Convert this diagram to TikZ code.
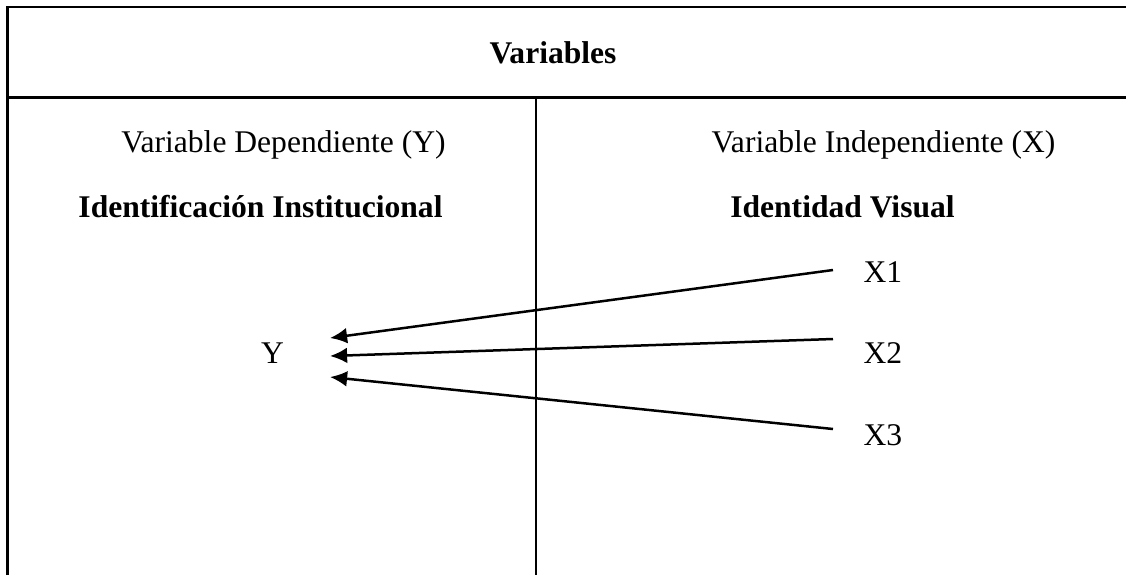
\documentclass[tikz,border=0pt]{standalone}
\usepackage{fontspec}
\setmainfont{Liberation Serif}
\usepackage{tikz}
\usetikzlibrary{arrows.meta}

\begin{document}
\begin{tikzpicture}[x=0.38pt,y=-0.38pt,
  rule/.style={line width=0.95pt},
  link/.style={line width=0.95pt,-{Latex[length=6.5pt,width=6pt]}},
  cell/.style={inner sep=0pt,anchor=base,font=\fontsize{12}{14}\selectfont},
  boldcell/.style={cell,font=\fontsize{12}{14}\selectfont\bfseries}]
  \useasboundingbox (0,0) rectangle (1126,575);
  % table frame (right and bottom edges cut off)
  \draw[rule] (7.5,575) -- (7.5,7) -- (1126,7);
  \draw[rule] (7.5,97.5) -- (1126,97.5);
  \draw[rule] (536,97.5) -- (536,575);
  % header
  \node[boldcell] (varsHead) at (553,63) {Variables};
  % left column: dependent variable
  \node[cell] (depLabel) at (283.5,152) {Variable Dependiente (Y)};
  \node[boldcell] (depName) at (260.5,217) {Identificación Institucional};
  % right column: independent variable
  \node[cell] (indLabel) at (883.5,152) {Variable Independiente (X)};
  \node[boldcell] (indName) at (842.5,217) {Identidad Visual};
  % Y and its indicators
  \node[cell] (Ynode) at (272.5,363) {Y};
  \foreach \i/\yb/\yt/\yh in {1/282/270/338,2/363/339/356,3/445/429/377}{
    \node[cell,anchor=base west] (X\i) at (863,\yb) {X\i};
    \coordinate (tail\i) at (833,\yt);
    \coordinate (head\i) at (330,\yh);
    \draw[link] (tail\i) -- (head\i);
  }
\end{tikzpicture}
\end{document}
